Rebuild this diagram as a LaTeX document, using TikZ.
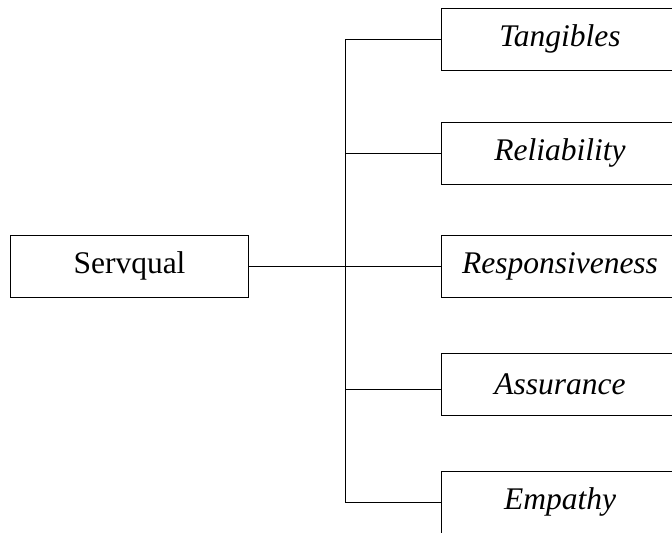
\documentclass[tikz,border=0pt]{standalone}
\usepackage{fontspec}
\setmainfont{Liberation Serif}
\usetikzlibrary{positioning}

\begin{document}
\begin{tikzpicture}[x=0.5pt, y=-0.5pt, line width=0.5pt,
    every node/.style={draw, rectangle, minimum width=119pt, minimum height=31pt,
      inner sep=0pt, font=\fontsize{15.75}{19}\selectfont},
    dimbox/.style={font=\fontsize{15.75}{19}\selectfont\itshape}]
    \clip (0,0) rectangle (672,532);
    \node (serv) at (129.5,266) {Servqual};
    \node[dimbox] (tang) at (560,39) {Tangibles};
    \node[dimbox] (reli) at (560,153) {Reliability};
    \node[dimbox] (resp) at (560,266) {Responsiveness};
    \node[dimbox] (assu) at (560,384) {Assurance};
    \node[dimbox] (empa) at (560,502) {Empathy};
    % trunk and branches
    \coordinate (jt) at (345,39);
    \coordinate (jr) at (345,153);
    \coordinate (ja) at (345,389);
    \coordinate (je) at (345,502);
    \draw (jt) -- (je);
    \draw (serv.east) -- (resp.west);
    \draw (jt) -- (tang.west);
    \draw (jr) -- (reli.west);
    \draw (ja) -- (ja -| assu.west);
    \draw (je) -- (empa.west);
\end{tikzpicture}
\end{document}
